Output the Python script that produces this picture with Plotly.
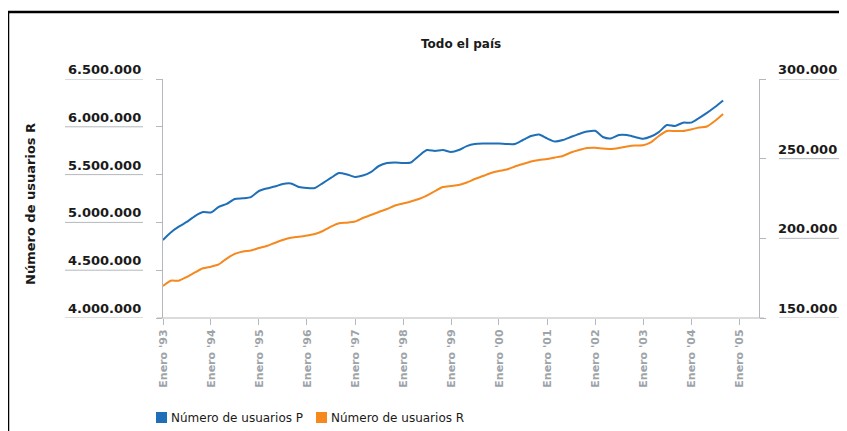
import plotly.graph_objects as go
import pandas as pd

# ---- data ----
dates = pd.date_range("1993-01-01", periods=71, freq="2MS").strftime("%Y-%m-%d").tolist()

usuarios_p = [199000, 203700, 207300, 210300, 214000, 216500, 216200, 219700, 221600, 224700,
              225100, 225900, 229700, 231300, 232500, 234100, 234400, 232200, 231600, 231600,
              234700, 237900, 241000, 240100, 238500, 239400, 241600, 245400, 247300, 247600,
              247300, 247600, 251700, 255400, 254800, 255400, 254200, 255400, 257900, 259200,
              259500, 259500, 259500, 259200, 259200, 261700, 264200, 265200, 262700, 260800,
              261700, 263600, 265500, 267000, 267500, 263600, 262700, 264800, 264800, 263600,
              262500, 263900, 266700, 271100, 270500, 272600, 272600, 275500, 278700, 282400,
              286500]

usuarios_r = [4334700, 4390000, 4390000, 4429000, 4476000, 4520000, 4537000, 4560000, 4622000, 4670000,
              4696000, 4706000, 4732000, 4753000, 4785000, 4816000, 4840000, 4850000, 4863000, 4879000,
              4910000, 4955000, 4991000, 4997000, 5009000, 5046000, 5077000, 5109000, 5140000, 5177000,
              5198000, 5219000, 5245000, 5281000, 5328000, 5370000, 5381000, 5391000, 5417000, 5454000,
              5485000, 5517000, 5538000, 5553000, 5585000, 5611000, 5637000, 5653000, 5663000, 5679000,
              5695000, 5731000, 5757000, 5778000, 5781000, 5773000, 5768000, 5778000, 5794000, 5804000,
              5806000, 5836000, 5904000, 5956000, 5956000, 5956000, 5972000, 5993000, 6003000, 6061000,
              6134000]

name_p = "Número de usuarios P"
name_r = "Número de usuarios R"
title_text = "Todo el país"
y_title = "Número de usuarios R"

tick_years = list(range(1993, 2006))
x_tick_vals = [f"{y}-01-01" for y in tick_years]
x_tick_text = [f"Enero '{str(y)[2:]}" for y in tick_years]
x_range = ["1993-01-01", "2005-06-01"]

left_ticks = [4000000, 4500000, 5000000, 5500000, 6000000, 6500000]
right_ticks = [150000, 200000, 250000, 300000]

color_p = "#1f6fb8"
color_r = "#f5891e"
grey = "#b4b8bc"
FONT = "DejaVu Sans"

# ---- layout geometry (page pixels; the page body adds an 8px offset) ----
OFF = 8
W, H = 847 - OFF, 431 - OFF
L, T = 163 - OFF, 79 - OFF
PW, PH = 759 - 163, 318 - 79
R = W - L - PW
B = H - T - PH


def px(x):
    return (x - OFF - L) / PW


def py(y):
    return (T + PH - (y - OFF)) / PH


def fmt(v):
    return f"{v:,}".replace(",", ".")


fig = go.Figure()
fig.add_trace(go.Scatter(x=dates, y=usuarios_r, mode="lines", name=name_r,
                         line=dict(color=color_r, width=2, shape="spline", smoothing=0.6),
                         yaxis="y", showlegend=False))
fig.add_trace(go.Scatter(x=dates, y=usuarios_p, mode="lines", name=name_p,
                         line=dict(color=color_p, width=2, shape="spline", smoothing=0.6),
                         yaxis="y2", showlegend=False))

shapes = []
annotations = []

# frame (top and left border)
shapes.append(dict(type="line", xref="paper", yref="paper", x0=px(8), x1=px(860), y0=py(12), y1=py(12),
                   line=dict(color="black", width=2.5)))
shapes.append(dict(type="line", xref="paper", yref="paper", x0=px(8), x1=px(8), y0=py(12), y1=py(445),
                   line=dict(color="black", width=2.5)))

# x-axis baseline slightly extended past both y axes
shapes.append(dict(type="line", xref="paper", yref="paper", x0=px(157), x1=px(764), y0=0, y1=0,
                   line=dict(color=grey, width=1)))

# left tick labels with underline
for v in left_ticks:
    shapes.append(dict(type="line", xref="paper", yref="y", x0=px(65), x1=px(143), y0=v, y1=v,
                       line=dict(color=grey, width=1)))
    annotations.append(dict(text=fmt(v), xref="paper", yref="y", x=px(143), y=v, xanchor="right",
                            yanchor="bottom", showarrow=False,
                            font=dict(family=FONT, size=13, color="#1a1a1a", weight="bold")))

# right tick labels with underline
for v in right_ticks:
    shapes.append(dict(type="line", xref="paper", yref="y2", x0=px(779), x1=px(843), y0=v, y1=v,
                       line=dict(color=grey, width=1)))
    annotations.append(dict(text=fmt(v), xref="paper", yref="y2", x=px(839), y=v, xanchor="right",
                            yanchor="bottom", showarrow=False,
                            font=dict(family=FONT, size=13, color="#1a1a1a", weight="bold")))

# title
annotations.append(dict(text=title_text, xref="paper", yref="paper", x=0.5, y=py(44), xanchor="center",
                        yanchor="middle", showarrow=False,
                        font=dict(family=FONT, size=12, color="#1a1a1a", weight="bold")))

# y-axis title
annotations.append(dict(text=y_title, xref="paper", yref="paper", x=px(30), y=py(204), xanchor="center",
                        yanchor="middle", textangle=-90, showarrow=False,
                        font=dict(family=FONT, size=13, color="#1a1a1a", weight="bold")))

# manual legend with square swatches
legend_items = [(name_p, color_p, 156), (name_r, color_r, 316)]
for name, col, x0 in legend_items:
    shapes.append(dict(type="rect", xref="paper", yref="paper", x0=px(x0), x1=px(x0 + 11),
                       y0=py(423), y1=py(412), fillcolor=col, line=dict(width=0)))
    annotations.append(dict(text=name, xref="paper", yref="paper", x=px(x0 + 13), y=py(417.5),
                            xanchor="left", yanchor="middle", showarrow=False,
                            font=dict(family=FONT, size=12, color="#1a1a1a")))

fig.update_layout(
    width=W, height=H, autosize=False,
    margin=dict(l=L, r=R, t=T, b=B, pad=0),
    paper_bgcolor="white", plot_bgcolor="white",
    showlegend=False,
    shapes=shapes, annotations=annotations,
    xaxis=dict(type="date", range=x_range, tickmode="array", tickvals=x_tick_vals, ticktext=x_tick_text,
               tickangle=-90, ticks="outside", ticklen=6, tickcolor=grey, showline=False,
               showgrid=False, zeroline=False,
               tickfont=dict(family=FONT, size=11, color="#9ea3a8", weight="bold")),
    yaxis=dict(range=[left_ticks[0], left_ticks[-1]], tickmode="array", tickvals=left_ticks,
               showticklabels=False, ticks="outside", ticklen=6, tickcolor=grey,
               showline=True, linecolor=grey, linewidth=1, showgrid=False, zeroline=False),
    yaxis2=dict(range=[right_ticks[0], right_ticks[-1]], tickmode="array", tickvals=right_ticks,
                showticklabels=False, ticks="outside", ticklen=6, tickcolor=grey, overlaying="y",
                side="right", showline=True, linecolor=grey, linewidth=1, showgrid=False, zeroline=False),
)

fig.write_html("out.html")
